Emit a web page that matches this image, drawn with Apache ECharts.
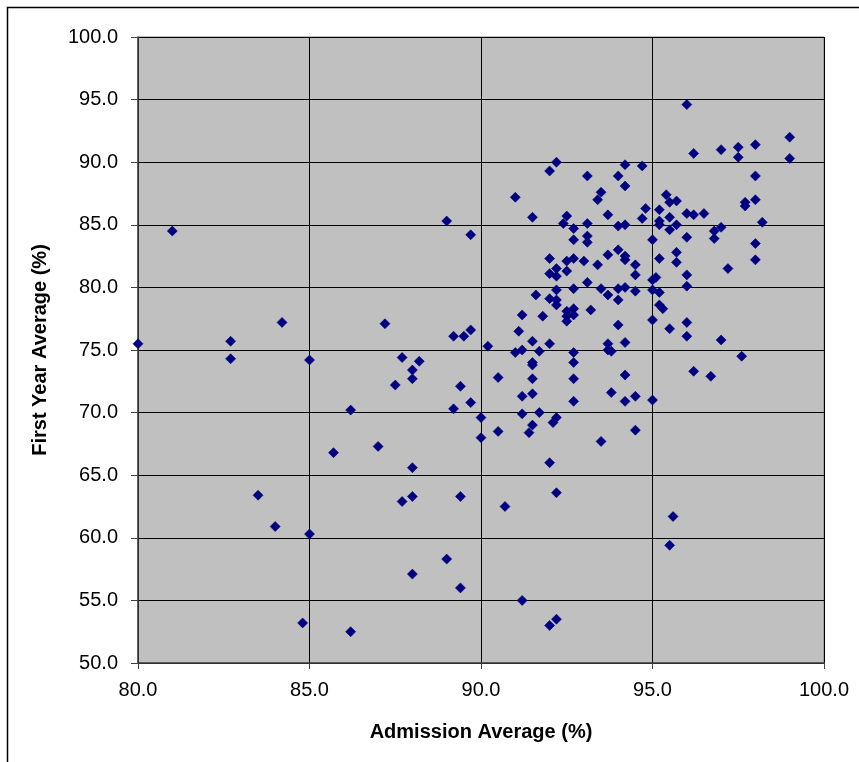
<!DOCTYPE html>
<html>
<head>
<meta charset="utf-8">
<script src="https://cdn.jsdelivr.net/npm/echarts@6/dist/echarts.min.js"></script>
<style>
html,body{margin:0;padding:0;background:#fff;}
#chart{width:859px;height:762px;}
</style>
</head>
<body>
<div id="chart"></div>
<script>
// Admission average (%) for each student
const admission = [
81.0,92.2,92.0,93.1,91.0,89.0,91.5,92.5,92.4,92.7,93.1,89.7,92.7,93.1,93.1,
96.0,99.0,96.2,97.0,97.5,97.5,98.0,99.0,94.0,94.2,94.7,94.2,98.0,93.5,93.4,
95.4,95.5,95.7,97.7,97.7,98.0,93.7,94.8,95.2,94.7,95.5,96.0,96.2,96.5,95.2,
95.2,95.5,95.7,98.2,94.0,94.2,95.0,96.0,96.8,97.0,96.8,98.0,93.7,94.0,94.2,
94.2,93.4,94.5,95.2,95.7,95.7,97.2,98.0,94.5,96.0,95.0,95.1,95.0,96.0,93.5,
94.0,94.2,94.5,93.7,94.0,95.2,93.2,95.2,95.3,95.0,96.0,95.5,96.0,94.0,97.0,
93.7,94.2,93.7,93.8,97.6,96.2,96.7,94.2,93.8,94.5,94.2,95.0,94.5,93.5,95.6,
95.5,80.0,82.7,82.7,84.2,85.0,86.2,85.7,83.5,84.0,85.0,84.8,86.2,87.0,88.0,
92.0,87.7,88.0,89.4,90.7,92.2,89.0,88.0,89.4,91.2,92.2,92.0,92.0,92.5,92.7,
93.0,92.2,92.0,92.2,92.5,93.1,91.6,92.2,92.7,92.0,92.2,92.2,92.5,92.7,92.7,
92.5,92.5,91.2,91.8,87.2,91.1,89.7,89.5,89.2,91.5,92.0,90.2,91.0,91.2,91.7,
92.7,92.7,87.7,88.2,91.5,91.5,88.0,88.0,87.5,90.5,91.5,92.7,89.4,91.5,91.2,
92.7,89.7,89.2,90.0,91.2,91.7,92.2,92.1,91.5,91.4,90.5,90.0
];
// First year average (%) for the same students
const firstYear = [
84.5,90.0,89.3,88.9,87.2,85.3,85.6,85.7,85.1,84.7,85.1,84.2,83.8,84.1,83.6,
94.6,92.0,90.7,91.0,91.2,90.4,91.4,90.3,88.9,89.8,89.7,88.1,88.9,87.6,87.0,
87.4,86.8,86.9,86.8,86.5,87.0,85.8,86.3,86.2,85.5,85.6,85.9,85.8,85.9,85.3,
85.0,84.6,85.0,85.2,84.9,85.0,83.8,84.0,84.5,84.8,83.9,83.5,82.6,83.0,82.5,
82.2,81.8,81.8,82.3,82.8,82.0,81.5,82.2,81.0,81.0,80.6,80.8,79.8,80.1,79.9,
79.9,80.0,79.7,79.4,79.0,79.6,78.2,78.6,78.3,77.4,77.2,76.7,76.1,77.0,75.8,
75.5,75.6,75.0,74.9,74.5,73.3,72.9,73.0,71.6,71.3,70.9,71.0,68.6,67.7,61.7,
59.4,75.5,75.7,74.3,77.2,74.2,70.2,66.8,63.4,60.9,60.3,53.2,52.5,67.3,65.6,
66.0,62.9,63.3,63.3,62.5,63.6,58.3,57.1,56.0,55.0,53.5,53.0,82.3,82.1,82.3,
82.1,81.5,81.1,80.9,81.3,80.4,79.4,79.8,79.9,79.1,79.0,78.6,78.1,78.3,77.8,
77.7,77.3,77.8,77.7,77.1,76.5,76.6,76.1,76.1,75.7,75.5,75.3,74.8,75.0,74.9,
74.8,74.0,74.4,74.1,74.0,73.8,73.4,72.7,72.2,72.8,72.7,72.7,72.1,71.5,71.3,
70.9,70.8,70.3,69.6,69.9,70.0,69.6,69.2,69.0,68.4,68.5,68.0
];
const xTitle = 'Admission Average (%)';
const yTitle = 'First Year Average (%)';

const points = admission.map((a, i) => [a, firstYear[i]]);
const chart = echarts.init(document.getElementById('chart'), null, {renderer: 'canvas'});
const font = 'Liberation Sans, Arial, sans-serif';
chart.setOption({
  animation: false,
  backgroundColor: '#ffffff',
  graphic: [{
    type: 'rect', silent: true, z: -1,
    shape: {x: 7.5, y: 7.5, width: 900, height: 900},
    style: {fill: 'none', stroke: '#000', lineWidth: 1.5}
  }],
  grid: {
    left: 138, top: 37, right: 35, bottom: 99,
    show: true, backgroundColor: '#c0c0c0', borderColor: '#808080', borderWidth: 1
  },
  xAxis: {
    type: 'value', min: 80, max: 100, interval: 5,
    name: xTitle, nameLocation: 'middle', nameGap: 59,
    nameTextStyle: {fontFamily: font, fontSize: 20, fontWeight: 'bold', color: '#000'},
    axisLine: {show: true, onZero: false, lineStyle: {color: '#404040', width: 1.5}},
    axisTick: {show: true, inside: false, length: 6, lineStyle: {color: '#404040'}},
    axisLabel: {fontFamily: font, fontSize: 20, color: '#000', margin: 17,
      formatter: v => v.toFixed(1)},
    splitLine: {show: true, lineStyle: {color: '#000', width: 1}}
  },
  yAxis: {
    type: 'value', min: 50, max: 100, interval: 5,
    name: yTitle, nameLocation: 'middle', nameGap: 88,
    nameTextStyle: {fontFamily: font, fontSize: 20, fontWeight: 'bold', color: '#000'},
    axisLine: {show: true, onZero: false, lineStyle: {color: '#404040', width: 1.5}},
    axisTick: {show: true, inside: false, length: 7, lineStyle: {color: '#404040'}},
    axisLabel: {fontFamily: font, fontSize: 20, color: '#000', margin: 20,
      formatter: v => v.toFixed(1)},
    splitLine: {show: true, lineStyle: {color: '#000', width: 1}}
  },
  series: [{
    type: 'scatter',
    data: points,
    symbol: 'diamond',
    symbolSize: 10,
    itemStyle: {color: '#000080', borderColor: '#000080', borderWidth: 0.6, opacity: 1}
  }]
});
</script>
</body>
</html>
